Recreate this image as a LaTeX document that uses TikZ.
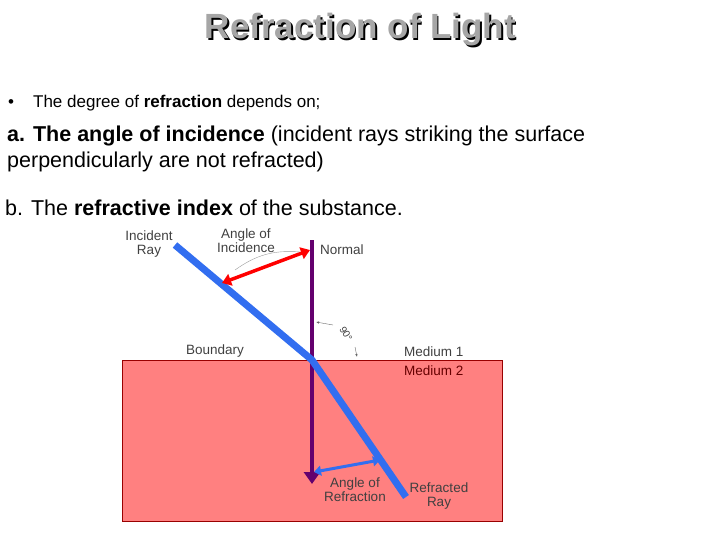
\documentclass[tikz,border=0pt]{standalone}
\usepackage{fontspec}
\setmainfont{Liberation Sans}
\usetikzlibrary{arrows.meta}
\definecolor{rayblue}{RGB}{50,110,240}
\definecolor{normpurple}{RGB}{100,0,110}
\definecolor{medpink}{RGB}{255,128,128}
\begin{document}
\begin{tikzpicture}[x=1pt,y=-1pt,
  txt/.style={anchor=west,inner sep=0pt,font=\fontsize{17}{20}\selectfont},
  txtb/.style={anchor=west,inner sep=0pt,font=\fontsize{21.5}{24}\selectfont},
  lab/.style={inner sep=0pt,font=\fontsize{13.5}{14}\selectfont,text=black!75,align=center},
  ray/.style={draw=rayblue,line width=7pt},
  tip/.style={-{Triangle[length=12pt,width=16pt]}}]
\useasboundingbox (0,0) rectangle (720,540);
\node[inner sep=0pt,font=\bfseries\fontsize{35}{38}\selectfont,text=black] at (362,32) (t0) {Refraction of Light};
\node[inner sep=0pt,font=\bfseries\fontsize{35}{38}\selectfont,text=black!35] at (360.5,30) (t1) {Refraction of Light};
\node[txt] (b1) at (8,103) {•\hspace{19pt}The degree of \textbf{refraction} depends on;};
\node[txtb] (l1) at (7,136) {\textbf{a. The angle of incidence} (incident rays striking the surface};
\node[txtb] (l2) at (7,162) {perpendicularly are not refracted)};
\node[txtb] (l3) at (5,208) {b. The \textbf{refractive index} of the substance.};
\node[draw=red!60!black,fill=medpink,minimum width=380pt,minimum height=161pt,inner sep=0pt] (m2) at (312,440.5) {};
\coordinate (a) at (175,245);
\coordinate (o) at (312,360);
\coordinate (e) at (406,497);
\coordinate (n0) at (312,240);
\coordinate (n1) at (312,484);
\draw[line width=4.5pt,normpurple,tip] (n0) -- (n1);
\draw[ray,line cap=butt] (a) -- (o) -- (e);
\coordinate (r1) at (222,283); \coordinate (r2) at (310,250);
\draw[red,line width=3.5pt,{Triangle[length=9pt,width=12pt]}-{Triangle[length=9pt,width=12pt]}] (r1) -- (r2);
\draw[black!40,thin] (235,270) to[bend left=20] (300,252);
\coordinate (q1) at (314,472); \coordinate (q2) at (380,460);
\draw[rayblue,line width=3pt,{Triangle[length=7pt,width=10pt]}-{Triangle[length=7pt,width=10pt]}] (q1) -- (q2);
\node[lab,rotate=-60,font=\fontsize{10}{10}\selectfont] (deg) at (346,334) {90°};
\draw[black!60,-{Latex[length=3pt]}] (333,325) -- (316,322);
\draw[black!60,-{Latex[length=3pt]}] (355,347) -- (357,357);
\node[lab] (li) at (149,244) {Incident\\Ray};
\node[lab] (la) at (246,241) {Angle of\\Incidence};
\node[lab,anchor=west] (ln) at (320,250) {Normal};
\node[lab] (lb) at (215,351) {Boundary};
\node[lab,anchor=west] (lm1) at (404,352) {Medium 1};
\node[lab,anchor=west,text=red!40!black] (lm2) at (404,371) {Medium 2};
\node[lab] (lr) at (355,490) {Angle of\\Refraction};
\node[lab] (lrr) at (439,496) {Refracted\\Ray};
\end{tikzpicture}
\end{document}
